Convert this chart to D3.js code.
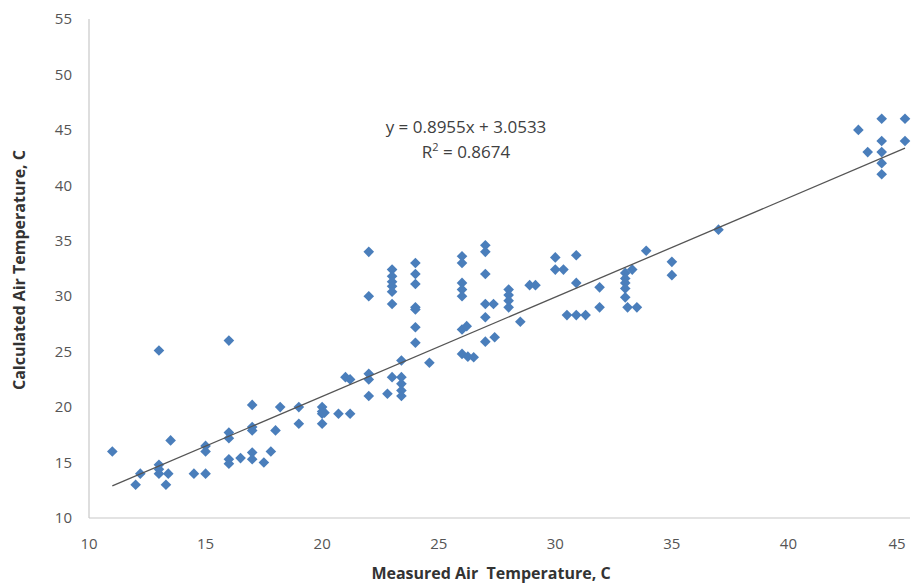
<!DOCTYPE html>
<html lang="en">
<head>
<meta charset="UTF-8">
<title>Measured vs Calculated Air Temperature</title>
<script src="https://d3js.org/d3.v7.min.js"></script>
<style>
  body { margin: 0; background: #fff; }
  text { font-family: "Open Sans", "Liberation Sans", sans-serif; }
</style>
</head>
<body>
<svg id="chart" width="911" height="583"></svg>
<script>
// measured (x) and calculated (y) air temperatures, C
const measured = [
  11, 12, 12.2, 13, 13, 13, 13, 13.4, 13.3, 13.5, 14.5, 15, 15, 15,
  16, 16, 16, 16, 16, 16.5, 17, 17, 17, 17, 17, 17.5, 17.8, 18, 18.2,
  19, 19, 20, 20, 20, 20.1, 20, 20.7, 21.2, 21, 21.2,
  22, 22, 22, 22, 22, 23, 23, 23, 23, 23, 23, 23, 22.8,
  23.4, 23.4, 23.4, 23.4, 23.4, 24, 24, 24, 24, 24, 24, 24, 24.6,
  26, 26, 26, 26, 26, 26, 26.2, 26, 26.25, 26.5,
  27, 27, 27, 27, 27.35, 27, 27, 27.4,
  28, 28, 28, 28, 28.5, 28.9, 29.15, 30, 30, 30.35, 30.9, 30.9,
  30.5, 30.9, 31.3, 31.9, 31.9, 33, 33, 33, 33, 33, 33.1, 33.5, 33.3,
  33.9, 35, 35, 37, 43, 43.4, 44, 44, 44, 44, 44, 45, 45
];
const calculated = [
  16, 13, 14, 25.1, 14.8, 14, 14.4, 14, 13, 17, 14, 14, 16.5, 16,
  26, 17.7, 17.2, 15.3, 14.9, 15.4, 20.2, 18.2, 17.9, 15.9, 15.3, 15, 16, 17.9, 20,
  20, 18.5, 20, 19.6, 18.5, 19.5, 19.4, 19.4, 19.4, 22.7, 22.5,
  34, 30, 23, 22.5, 21, 32.4, 31.8, 31.3, 30.9, 30.4, 29.3, 22.7, 21.2,
  24.2, 22.7, 22.1, 21.5, 21, 33, 32, 31.1, 29, 28.8, 27.2, 25.8, 24,
  33.6, 33, 31.2, 30.6, 30, 27, 27.3, 24.8, 24.55, 24.5,
  34.6, 34, 32, 29.3, 29.3, 28.1, 25.9, 26.3,
  30.6, 30.1, 29.6, 29, 27.7, 31, 31, 33.5, 32.4, 32.4, 33.7, 31.2,
  28.3, 28.3, 28.3, 30.8, 29, 32.1, 31.6, 31.2, 30.7, 29.9, 29, 29, 32.4,
  34.1, 33.1, 31.9, 36, 45, 43, 46, 44, 43, 42, 41, 46, 44
];
const xTicks = [10, 15, 20, 25, 30, 35, 40, 45];
const yTicks = [10, 15, 20, 25, 30, 35, 40, 45, 50, 55];
const slope = 0.8955, intercept = 3.0533, r2 = 0.8674;
const fitRange = [11, 45];

const svg = d3.select("#chart");
const x = d3.scaleLinear().domain([10, 45]).range([89, 905]);
const y = d3.scaleLinear().domain([10, 55]).range([518, 19]);

// axis lines
svg.append("line").attr("x1", 89).attr("x2", 89).attr("y1", 19).attr("y2", 518)
  .attr("stroke", "#c8c8c8").attr("stroke-width", 1.2);
svg.append("line").attr("x1", 89).attr("x2", 910).attr("y1", 518).attr("y2", 518)
  .attr("stroke", "#c8c8c8").attr("stroke-width", 1.2);

// tick labels
svg.append("g").selectAll("text").data(yTicks).join("text")
  .attr("x", 72).attr("y", d => y(d)).attr("dy", "0.35em")
  .attr("text-anchor", "end").attr("font-size", 15).attr("fill", "#555")
  .text(d => d);
svg.append("g").selectAll("text").data(xTicks).join("text")
  .attr("x", d => Math.min(x(d), 897)).attr("y", 549)
  .attr("text-anchor", "middle").attr("font-size", 15).attr("fill", "#555")
  .text(d => d);

// axis titles
svg.append("text").attr("x", 491).attr("y", 579).attr("text-anchor", "middle")
  .attr("font-size", 16).attr("font-weight", "bold").attr("fill", "#333")
  .attr("xml:space", "preserve")
  .text("Measured Air  Temperature, C");
svg.append("text").attr("transform", "translate(25,270) rotate(-90)")
  .attr("text-anchor", "middle").attr("font-size", 16).attr("font-weight", "bold").attr("fill", "#333")
  .text("Calculated Air Temperature, C");

// points
const pts = measured.map((m, i) => ({ m, c: calculated[i] }));
svg.append("g").selectAll("path").data(pts).join("path")
  .attr("d", d3.symbol(d3.symbolDiamond2, 72))
  .attr("transform", d => `translate(${x(d.m)},${y(d.c)})`)
  .attr("fill", "#4a7ebb");

// trend line
svg.append("line")
  .attr("x1", x(fitRange[0])).attr("y1", y(slope * fitRange[0] + intercept))
  .attr("x2", x(fitRange[1])).attr("y2", y(slope * fitRange[1] + intercept))
  .attr("stroke", "#555").attr("stroke-width", 1.3);

// equation
svg.append("text").attr("x", 466).attr("y", 133).attr("text-anchor", "middle")
  .attr("font-size", 17).attr("fill", "#404040")
  .text(`y = ${slope}x + ${intercept}`);
const r = svg.append("text").attr("x", 466).attr("y", 158).attr("text-anchor", "middle")
  .attr("font-size", 17).attr("fill", "#404040");
r.append("tspan").text("R");
r.append("tspan").attr("dy", -7).attr("font-size", 11).text("2");
r.append("tspan").attr("dy", 7).text(` = ${r2}`);
</script>
</body>
</html>
